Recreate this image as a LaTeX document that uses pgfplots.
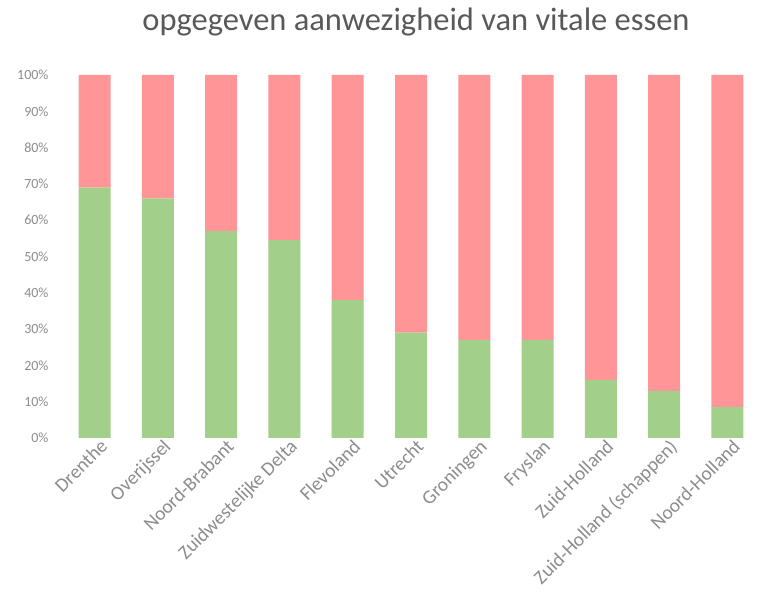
\documentclass[border=0pt]{standalone}
\usepackage{pgfplots}
\pgfplotsset{compat=1.18}
\usepackage{fontspec}
\setmainfont{Carlito}
\definecolor{grn}{HTML}{A2CF89}
\definecolor{rd}{HTML}{FF9597}
\definecolor{txt}{HTML}{8C8C8C}
\definecolor{ttl}{HTML}{595959}
\begin{document}
\begin{tikzpicture}[x=1pt,y=1pt]
\useasboundingbox (0,0) rectangle (768,596);
\begin{axis}[
  at={(63pt,158pt)}, anchor=south west,
  scale only axis, width=696pt, height=363pt,
  ybar stacked, bar width=32pt,
  xmin=-0.5, xmax=10.5, ymin=0, ymax=100,
  axis line style={draw=none},
  xtick=data,
  xticklabels={Drenthe,Overijssel,Noord-Brabant,Zuidwestelijke Delta,Flevoland,Utrecht,Groningen,Fryslan,Zuid-Holland,Zuid-Holland (schappen),Noord-Holland},
  x tick label style={rotate=45, anchor=north east, font=\fontsize{19.5}{21}\selectfont, text=txt, inner sep=1pt, xshift=4pt, yshift=-2pt},
  ytick={0,10,...,100},
  yticklabel={\pgfmathprintnumber{\tick}\%},
  /pgf/number format/assume math mode=true,
  y tick label style={font=\fontsize{14}{16}\selectfont, text=txt, xshift=-11pt},
  major tick length=0pt,
  title={opgegeven aanwezigheid van vitale essen},
  title style={font=\fontsize{32.5}{36}\selectfont, text=ttl, at={(0.5,1)}, anchor=base, yshift=38pt, xshift=5pt},
]
\addplot[fill=grn, draw=none] coordinates {(0,69) (1,66) (2,57) (3,54.5) (4,38) (5,29) (6,27) (7,27) (8,16) (9,13) (10,8.5)};
\addplot[fill=rd, draw=none] coordinates {(0,31) (1,34) (2,43) (3,45.5) (4,62) (5,71) (6,73) (7,73) (8,84) (9,87) (10,91.5)};
\end{axis}
\end{tikzpicture}
\end{document}
